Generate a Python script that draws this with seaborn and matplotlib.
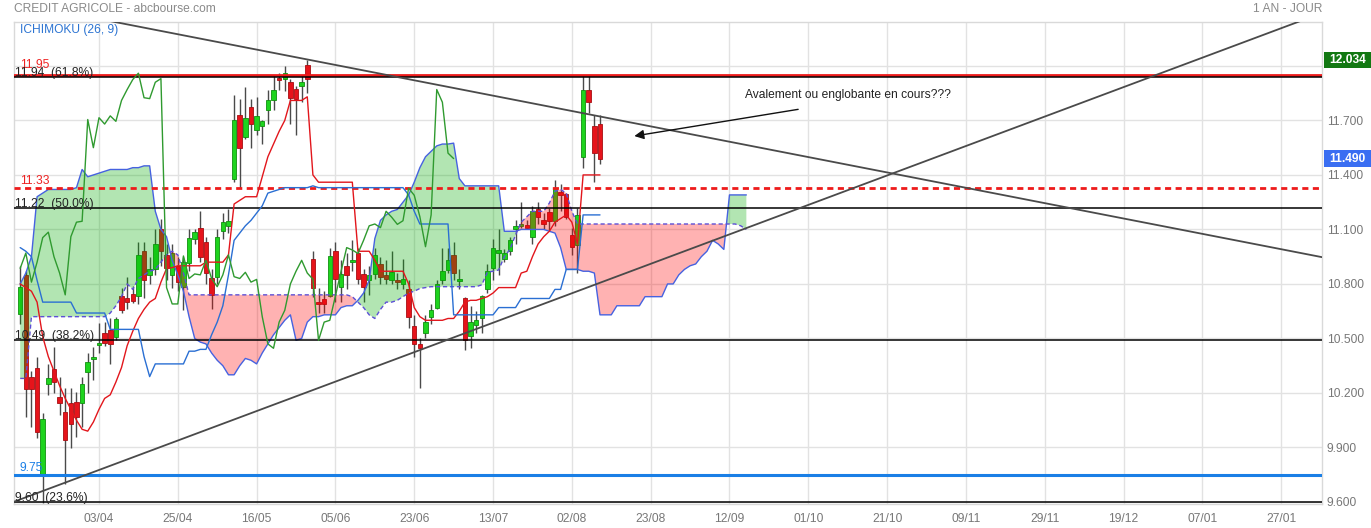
import numpy as np
import seaborn as sns
import matplotlib
matplotlib.use("Agg")
import matplotlib.pyplot as plt
from matplotlib import transforms
from matplotlib.patches import Rectangle

# daily candles (one per trading day)
opens = [10.635, 10.85, 10.29, 10.336, 9.75, 10.25, 10.33, 10.18, 10.097, 10.146,
         10.152, 10.146, 10.317, 10.385, 10.465, 10.532, 10.547, 10.51, 10.734, 10.72,
         10.745, 10.735, 10.98, 10.848, 10.88, 11.10, 10.96, 10.85, 10.90, 10.785,
         10.915, 11.045, 11.11, 11.03, 10.835, 10.84, 11.093, 11.12, 11.376, 11.73,
         11.61, 11.775, 11.65, 11.67, 11.76, 11.815, 11.93, 11.93, 11.91, 11.875,
         11.89, 12.005, 10.936, 10.70, 10.716, 10.735, 10.98, 10.785, 10.897, 10.92,
         10.97, 10.855, 10.82, 10.855, 10.91, 10.85, 10.82, 10.82, 10.80, 10.77,
         10.57, 10.47, 10.53, 10.62, 10.67, 10.82, 10.877, 10.96, 10.818, 10.72,
         10.515, 10.574, 10.61, 10.77, 10.89, 10.97, 10.94, 10.98, 11.10, 11.12,
         11.125, 11.057, 11.21, 11.15, 11.194, 11.148, 11.305, 11.294, 11.07, 11.014,
         11.50, 11.87, 11.67, 11.68]
highs = [10.90, 10.87, 10.32, 10.40, 10.09, 10.36, 10.455, 10.29, 10.226, 10.226,
         10.207, 10.29, 10.42, 10.455, 10.587, 10.59, 10.61, 10.62, 10.78, 10.84,
         10.79, 11.03, 11.03, 10.95, 11.10, 11.16, 11.02, 11.02, 10.95, 10.95,
         11.10, 11.10, 11.20, 11.06, 10.88, 11.10, 11.19, 11.21, 11.84, 11.82,
         11.886, 11.82, 11.83, 11.70, 11.87, 11.95, 11.96, 12.00, 11.93, 11.89,
         11.95, 12.03, 10.98, 10.775, 10.76, 11.00, 11.03, 10.93, 10.97, 11.04,
         11.00, 10.88, 10.90, 11.00, 10.95, 10.93, 10.98, 10.86, 10.94, 10.82,
         10.63, 10.50, 10.63, 10.69, 10.82, 11.00, 11.00, 11.03, 10.88, 10.73,
         10.68, 10.65, 10.74, 10.91, 11.05, 11.10, 10.99, 11.06, 11.15, 11.25,
         11.15, 11.23, 11.25, 11.19, 11.22, 11.37, 11.35, 11.30, 11.11, 11.22,
         11.95, 11.95, 11.73, 11.73]
lows = [10.58, 10.07, 10.01, 9.95, 9.595, 10.19, 10.20, 10.08, 9.70, 9.895,
        9.96, 10.01, 10.20, 10.27, 10.42, 10.46, 10.36, 10.49, 10.64, 10.66,
        10.695, 10.69, 10.72, 10.80, 10.85, 10.90, 10.82, 10.78, 10.76, 10.657,
        10.87, 11.02, 10.92, 10.80, 10.66, 10.80, 11.05, 11.08, 11.36, 11.33,
        11.60, 11.55, 11.62, 11.57, 11.68, 11.76, 11.87, 11.86, 11.68, 11.62,
        11.80, 11.85, 10.73, 10.64, 10.64, 10.73, 10.70, 10.70, 10.77, 10.87,
        10.80, 10.70, 10.74, 10.83, 10.80, 10.80, 10.80, 10.77, 10.77, 10.56,
        10.40, 10.227, 10.50, 10.58, 10.66, 10.80, 10.86, 10.82, 10.77, 10.436,
        10.45, 10.53, 10.53, 10.75, 10.82, 10.85, 10.92, 10.96, 11.02, 11.11,
        11.10, 11.02, 11.13, 11.10, 11.09, 11.12, 11.20, 11.16, 10.96, 10.86,
        11.44, 11.74, 11.36, 11.46]
closes = [10.785, 10.22, 10.22, 9.987, 10.055, 10.28, 10.26, 10.146, 9.94, 10.03,
          10.07, 10.247, 10.369, 10.40, 10.475, 10.473, 10.468, 10.605, 10.657, 10.70,
          10.708, 10.96, 10.82, 10.88, 11.02, 10.98, 10.886, 10.97, 10.81, 10.92,
          11.055, 11.085, 10.95, 10.86, 10.74, 11.06, 11.14, 11.145, 11.705, 11.55,
          11.715, 11.68, 11.725, 11.695, 11.81, 11.87, 11.925, 11.96, 11.825, 11.82,
          11.91, 11.93, 10.78, 10.69, 10.69, 10.954, 10.83, 10.855, 10.85, 10.93,
          10.83, 10.785, 10.85, 10.96, 10.84, 10.83, 10.864, 10.81, 10.825, 10.62,
          10.47, 10.446, 10.59, 10.655, 10.80, 10.87, 10.93, 10.86, 10.826, 10.49,
          10.59, 10.60, 10.734, 10.87, 11.00, 10.987, 10.968, 11.04, 11.12, 11.13,
          11.11, 11.20, 11.167, 11.128, 11.148, 11.327, 11.288, 11.17, 11.005, 11.18,
          11.87, 11.80, 11.52, 11.49]

# ichimoku (26, 9) lines as drawn
tenkan = [10.80, 10.78, 10.76, 10.70, 10.51, 10.40, 10.32, 10.24, 10.17, 10.11,
          10.05, 10.00, 9.99, 10.04, 10.11, 10.17, 10.19, 10.26, 10.34, 10.46,
          10.54, 10.61, 10.66, 10.70, 10.72, 10.81, 10.885, 10.89, 10.90, 10.90,
          10.90, 10.90, 10.90, 10.92, 10.92, 10.92, 10.92, 10.96, 11.24, 11.26,
          11.28, 11.28, 11.28, 11.39, 11.50, 11.57, 11.64, 11.70, 11.81, 11.81,
          11.81, 11.83, 11.40, 11.36, 11.36, 11.36, 11.36, 11.36, 11.36, 11.36,
          10.98, 10.98, 10.98, 10.93, 10.87, 10.87, 10.87, 10.87, 10.87, 10.80,
          10.67, 10.62, 10.60, 10.60, 10.60, 10.60, 10.61, 10.61, 10.65, 10.70,
          10.71, 10.71, 10.72, 10.73, 10.75, 10.78, 10.78, 10.78, 10.78, 10.86,
          10.87, 10.95, 11.02, 11.06, 11.09, 11.14, 11.16, 11.18, 11.14, 11.02,
          11.40, 11.40, 11.40, 11.40]
kijun = [11.00, 10.98, 10.95, 10.82, 10.70, 10.70, 10.70, 10.70, 10.70, 10.70,
         10.64, 10.64, 10.64, 10.64, 10.64, 10.64, 10.55, 10.55, 10.55, 10.55,
         10.55, 10.55, 10.40, 10.29, 10.36, 10.36, 10.36, 10.36, 10.36, 10.36,
         10.43, 10.43, 10.44, 10.44, 10.52, 10.59, 10.68, 10.85, 11.04, 11.08,
         11.12, 11.15, 11.19, 11.23, 11.30, 11.31, 11.32, 11.33, 11.33, 11.33,
         11.33, 11.33, 11.34, 11.33, 11.33, 11.33, 11.33, 11.33, 11.33, 11.33,
         11.33, 11.33, 11.33, 11.33, 11.33, 11.33, 11.33, 11.33, 11.33, 11.29,
         11.20, 11.13, 11.13, 11.13, 11.13, 11.13, 11.13, 10.63, 10.63, 10.63,
         10.63, 10.63, 10.63, 10.63, 10.63, 10.67, 10.67, 10.67, 10.67, 10.72,
         10.72, 10.72, 10.72, 10.72, 10.72, 10.77, 10.77, 10.88, 10.88, 10.88,
         11.18, 11.18, 11.18, 11.18]
span_a = [10.80, 10.86, 10.95, 11.28, 11.30, 11.32, 11.32, 11.32, 11.32, 11.32,
          11.33, 11.43, 11.39, 11.40, 11.41, 11.42, 11.43, 11.43, 11.43, 11.43,
          11.44, 11.44, 11.45, 11.45, 11.20, 11.10, 11.06, 10.93, 10.85, 10.76,
          10.62, 10.50, 10.48, 10.47, 10.42, 10.38, 10.35, 10.30, 10.30, 10.35,
          10.39, 10.38, 10.36, 10.42, 10.47, 10.52, 10.56, 10.60, 10.63, 10.49,
          10.50, 10.59, 10.62, 10.62, 10.63, 10.63, 10.63, 10.67, 10.68, 10.68,
          10.71, 10.75, 10.82, 11.05, 11.15, 11.18, 11.20, 11.21, 11.25, 11.29,
          11.36, 11.44, 11.50, 11.53, 11.56, 11.57, 11.57, 11.575, 11.38, 11.34,
          11.34, 11.34, 11.34, 11.34, 11.34, 11.34, 11.09, 11.09, 11.09, 11.10,
          11.10, 11.10, 11.10, 11.10, 11.09, 11.08, 11.00, 10.88, 10.88, 10.88,
          10.87, 10.87, 10.86, 10.63, 10.63, 10.63, 10.68, 10.68, 10.68, 10.68,
          10.68, 10.73, 10.73, 10.73, 10.73, 10.80, 10.80, 10.85, 10.88, 10.90,
          10.91, 10.95, 10.98, 11.04, 11.02, 10.99, 11.29, 11.29, 11.29, 11.29]
span_b = [10.28, 10.28, 10.62, 10.62, 10.62, 10.62, 10.62, 10.62, 10.62, 10.62,
          10.62, 10.62, 10.62, 10.62, 10.62, 10.62, 10.64, 10.68, 10.73, 10.80,
          10.77, 10.83, 10.85, 10.87, 10.88, 10.92, 10.96, 10.98, 10.96, 10.86,
          10.74, 10.74, 10.74, 10.74, 10.74, 10.74, 10.74, 10.74, 10.74, 10.74,
          10.74, 10.74, 10.74, 10.74, 10.74, 10.74, 10.74, 10.74, 10.74, 10.74,
          10.74, 10.74, 10.74, 10.74, 10.74, 10.74, 10.74, 10.74, 10.74, 10.73,
          10.70, 10.67, 10.63, 10.61, 10.66, 10.70, 10.70, 10.71, 10.73, 10.75,
          10.76, 10.775, 10.78, 10.785, 10.785, 10.785, 10.785, 10.785, 10.785, 10.785,
          10.785, 10.785, 10.795, 10.865, 10.87, 10.877, 10.95, 10.99, 11.07, 11.14,
          11.17, 11.20, 11.20, 11.20, 11.245, 11.31, 11.32, 11.30, 11.20, 11.13,
          11.13, 11.13, 11.13, 11.13, 11.13, 11.13, 11.13, 11.13, 11.13, 11.13,
          11.13, 11.13, 11.13, 11.13, 11.13, 11.13, 11.13, 11.13, 11.13, 11.13,
          11.13, 11.13, 11.13, 11.13, 11.13, 11.13, 11.13, 11.13, 11.12, 11.10]
shift = 26

date_labels = ['03/04', '25/04', '16/05', '05/06', '23/06', '13/07', '02/08', '23/08',
               '12/09', '01/10', '21/10', '09/11', '29/11', '19/12', '07/01', '27/01']
price_ticks = [9.6, 9.9, 10.2, 10.5, 10.8, 11.1, 11.4, 11.7, 12.0]

fib_levels = [11.94, 11.22, 10.49, 9.60]
fib_labels = ['11.94  (61.8%)', '11.22  (50.0%)', '10.49  (38.2%)', '9.60  (23.6%)']
resistance = 11.95
pivot = 11.33
support = 9.75
last_price = 11.49
upper_mark = 12.034

down_trend_x = [10, 232]
down_trend_y = [12.283, 10.943]
up_trend_x = [-2, 232]
up_trend_y = [9.591, 12.30]
note_text = 'Avalement ou englobante en cours???'
note_from = (138.2, 11.761)
note_to = (109.1, 11.614)

sns.set_theme(style="white")
plt.rcParams['font.family'] = ['Liberation Sans', 'DejaVu Sans']
FS = 8.64
GRAY = '#777777'

W, H = 1371, 528
fig = plt.figure(figsize=(W / 100, H / 100), dpi=100)
ax = fig.add_axes([14 / W, (H - 503.5) / H, 1308 / W, 481.5 / H])
ax.set_xlim(-1.1, 231.26)
ax.set_ylim(9.5917, 12.2417)
ax.set_autoscale_on(False)

# grid
ax.set_xticks(np.arange(14, 14 * (len(date_labels) + 1), 14))
ax.set_xticklabels(date_labels)
ax.set_yticks(price_ticks)
# the top tick label sits under the 12.034 marker box
ax.set_yticklabels(['%.3f' % v if v < 12 else '' for v in price_ticks])
ax.yaxis.tick_right()
ax.tick_params(axis='x', length=0, pad=7, labelsize=FS, labelcolor=GRAY)
ax.tick_params(axis='y', length=0, pad=3.5, labelsize=FS, labelcolor=GRAY)
ax.grid(True, color='#e2e2e2', lw=1)
ax.set_axisbelow(True)
for s in ax.spines.values():
    s.set_color('#d9d9d9')
    s.set_linewidth(1)

# candles
o, h, l, c = map(np.array, (opens, highs, lows, closes))
idx = np.arange(len(c))
up = c >= o
ax.vlines(idx, l, h, color='#4a4a4a', lw=1, zorder=2)
body = np.maximum(np.abs(c - o), 0.008)
base = np.minimum(o, c)
ax.bar(idx[up], body[up], bottom=base[up], width=0.8, color='#1ed41e',
       edgecolor='#10900f', lw=0.6, zorder=2.5)
ax.bar(idx[~up], body[~up], bottom=base[~up], width=0.8, color='#e6141b',
       edgecolor='#a80d12', lw=0.6, zorder=2.5)

# cloud over the candles
a = np.array(span_a)
b = np.array(span_b)
cx = np.arange(len(a))
ax.fill_between(cx, a, b, where=a >= b, interpolate=True, color=(0, 0.67, 0),
                alpha=0.3, lw=0, zorder=3)
ax.fill_between(cx, a, b, where=a < b, interpolate=True, color=(1, 0, 0),
                alpha=0.3, lw=0, zorder=3)
sns.lineplot(x=cx, y=a, color='#4662e0', lw=1, ax=ax, zorder=3.5, estimator=None)
sns.lineplot(x=cx, y=b, color='#5c4fd6', lw=1, ax=ax, zorder=3.5, estimator=None)
ax.lines[-1].set_linestyle((0, (3, 2)))

# level lines
ax.axhline(resistance, color='#ee1b1b', lw=2, zorder=4)
for lv in fib_levels:
    ax.axhline(lv, color='black', lw=1.1, zorder=4)
ax.axhline(pivot, color='#ee1b1b', lw=2, ls=(0, (2.2, 1.6)), zorder=4)
ax.axhline(support, color='#1a7fe6', lw=2.2, zorder=4)

# tenkan, kijun, chikou
sns.lineplot(x=idx, y=tenkan, color='#e2161c', lw=1, ax=ax, zorder=5, estimator=None)
sns.lineplot(x=idx, y=kijun, color='#2a6fd3', lw=1, ax=ax, zorder=5, estimator=None)
sns.lineplot(x=idx[shift:] - shift, y=c[shift:], color='#2f9a2f', lw=1, ax=ax,
             zorder=5, estimator=None)

# trend lines
ax.plot(down_trend_x, down_trend_y, color='#4a4a4a', lw=1.3, zorder=6)
ax.plot(up_trend_x, up_trend_y, color='#4a4a4a', lw=1.3, zorder=6)
ax.set_xlabel('')
ax.set_ylabel('')

# level labels at the left
ytr = ax.get_yaxis_transform()
px = 1 / 1308
ax.text(6 * px, resistance + 0.04, '%.2f' % resistance, color='#ee2222', fontsize=FS,
        transform=ytr, va='baseline', zorder=7)
for lv, lab in zip(fib_levels, fib_labels):
    ax.text(0.5 * px, lv + 0.006, lab, color='#222222', fontsize=FS,
            transform=ytr, va='baseline', zorder=7)
ax.text(6 * px, pivot + 0.02, '%.2f' % pivot, color='#ee2222', fontsize=FS,
        transform=ytr, va='baseline', zorder=7)
ax.text(5 * px, support + 0.018, '%.2f' % support, color='#1a7fe6', fontsize=FS,
        transform=ytr, va='baseline', zorder=7)

# note with arrow
ax.annotate('', xy=note_to, xytext=note_from,
            arrowprops=dict(arrowstyle='-|>', color='#111111', lw=1, mutation_scale=14,
                            shrinkA=0, shrinkB=0), zorder=7)
ax.text(128.8, 11.84, note_text, fontsize=FS, color='#222222', va='center', ha='left',
        zorder=7)

# price boxes on the right axis
btr = transforms.blended_transform_factory(ax.transAxes, ax.transData)
for val, col in [(upper_mark, '#127812'), (last_price, '#3a6ef2')]:
    ax.add_patch(Rectangle((1.0015, val - 0.045), 0.036, 0.09, transform=btr,
                           facecolor=col, edgecolor='none', clip_on=False, zorder=8))
    ax.text(1.0195, val, '%.3f' % val, transform=btr, color='white', fontsize=FS,
            fontweight='bold', ha='center', va='center', zorder=9, clip_on=False)

# header texts
fig.text(14 / W, 1 - 8.5 / H, 'CREDIT AGRICOLE - abcbourse.com', color='#8a8a8a',
         fontsize=FS, va='center', ha='left')
fig.text(1322 / W, 1 - 8.5 / H, '1 AN - JOUR', color='#8a8a8a', fontsize=FS,
         va='center', ha='right')
ax.text(5.5 * px, 0.983, 'ICHIMOKU (26, 9)', color='#2c74d2',
        fontsize=FS, transform=ax.transAxes, va='center', ha='left', zorder=7)

fig.savefig('out.png', dpi=100)
